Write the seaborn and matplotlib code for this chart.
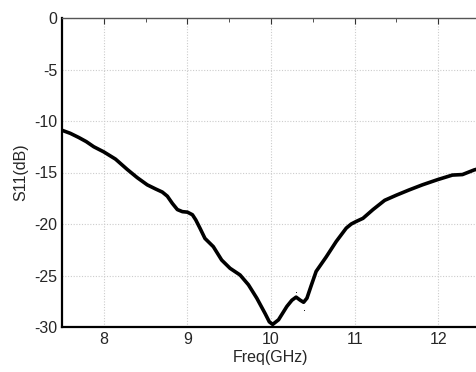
import pandas as pd
import seaborn as sns
import matplotlib.pyplot as plt
from matplotlib.ticker import MultipleLocator

# S11 curve
freq = [7.50, 7.60, 7.70, 7.79, 7.88, 8.00, 8.14, 8.28, 8.40, 8.52, 8.62, 8.70,
        8.76, 8.82, 8.88, 8.94, 9.00, 9.06, 9.10, 9.15, 9.21, 9.31, 9.41, 9.51,
        9.63, 9.73, 9.83, 9.93, 9.98, 10.02, 10.09, 10.19, 10.25, 10.30, 10.35,
        10.39, 10.43, 10.48, 10.54, 10.66, 10.78, 10.90, 10.96, 11.02, 11.10,
        11.22, 11.36, 11.50, 11.65, 11.81, 11.99, 12.17, 12.29, 12.43, 12.50]
s11 = [-10.9, -11.2, -11.6, -12.0, -12.5, -13.0, -13.7, -14.7, -15.5, -16.2,
       -16.6, -16.9, -17.3, -18.0, -18.6, -18.8, -18.85, -19.1, -19.6, -20.4,
       -21.4, -22.2, -23.5, -24.3, -24.95, -25.9, -27.2, -28.7, -29.5, -29.75,
       -29.3, -28.0, -27.4, -27.1, -27.4, -27.6, -27.2, -26.0, -24.6, -23.2,
       -21.7, -20.4, -20.0, -19.75, -19.45, -18.6, -17.7, -17.2, -16.7, -16.2,
       -15.7, -15.25, -15.2, -14.75, -14.6]
# two stray marker dots near the notch
dot_freq = [10.30, 10.40]
dot_s11 = [-26.6, -28.35]

df = pd.DataFrame({'Freq': freq, 'S11': s11})

sns.set_style('white')
plt.rcParams['font.family'] = ['Liberation Sans', 'DejaVu Sans']

fig = plt.figure(figsize=(4.76, 3.72), dpi=100)
ax = fig.add_axes([62 / 476, 1 - 327 / 372, (480 - 62) / 476, (327 - 18) / 372])

sns.lineplot(data=df, x='Freq', y='S11', ax=ax, color='black', linewidth=2.6,
             solid_joinstyle='round', solid_capstyle='round')
ax.scatter(dot_freq, dot_s11, s=0.6, color='black', linewidths=0)

ax.set_xlim(7.5, 12.5)
ax.set_ylim(-30, 0)
ax.xaxis.set_major_locator(MultipleLocator(1))
ax.xaxis.set_minor_locator(MultipleLocator(0.5))
ax.yaxis.set_major_locator(MultipleLocator(5))
ax.yaxis.set_minor_locator(MultipleLocator(2.5))
ax.grid(True, which='major', color='#cccccc', linestyle=(0, (1, 1.5)), linewidth=0.8)

ax.tick_params(which='both', direction='in', top=True, right=False, labelsize=11.5,
               color='#333333')
ax.tick_params(which='major', length=4)
ax.tick_params(which='minor', length=3)
ax.set_xticks([8, 9, 10, 11, 12])
ax.set_yticks([0, -5, -10, -15, -20, -25, -30])
ax.set_yticklabels(['0', '-5', '-10', '-15', '-20', '-25', '-30'])

for side in ['left', 'bottom']:
    ax.spines[side].set_color('black')
    ax.spines[side].set_linewidth(1.6)
ax.spines['top'].set_color('#555555')
ax.spines['top'].set_linewidth(1.0)
ax.spines['right'].set_visible(False)

ax.set_xlabel('Freq(GHz)', fontsize=11.5, labelpad=2)
ax.set_ylabel('S11(dB)', fontsize=11.5, labelpad=4)

fig.savefig('out.png', dpi=100)
